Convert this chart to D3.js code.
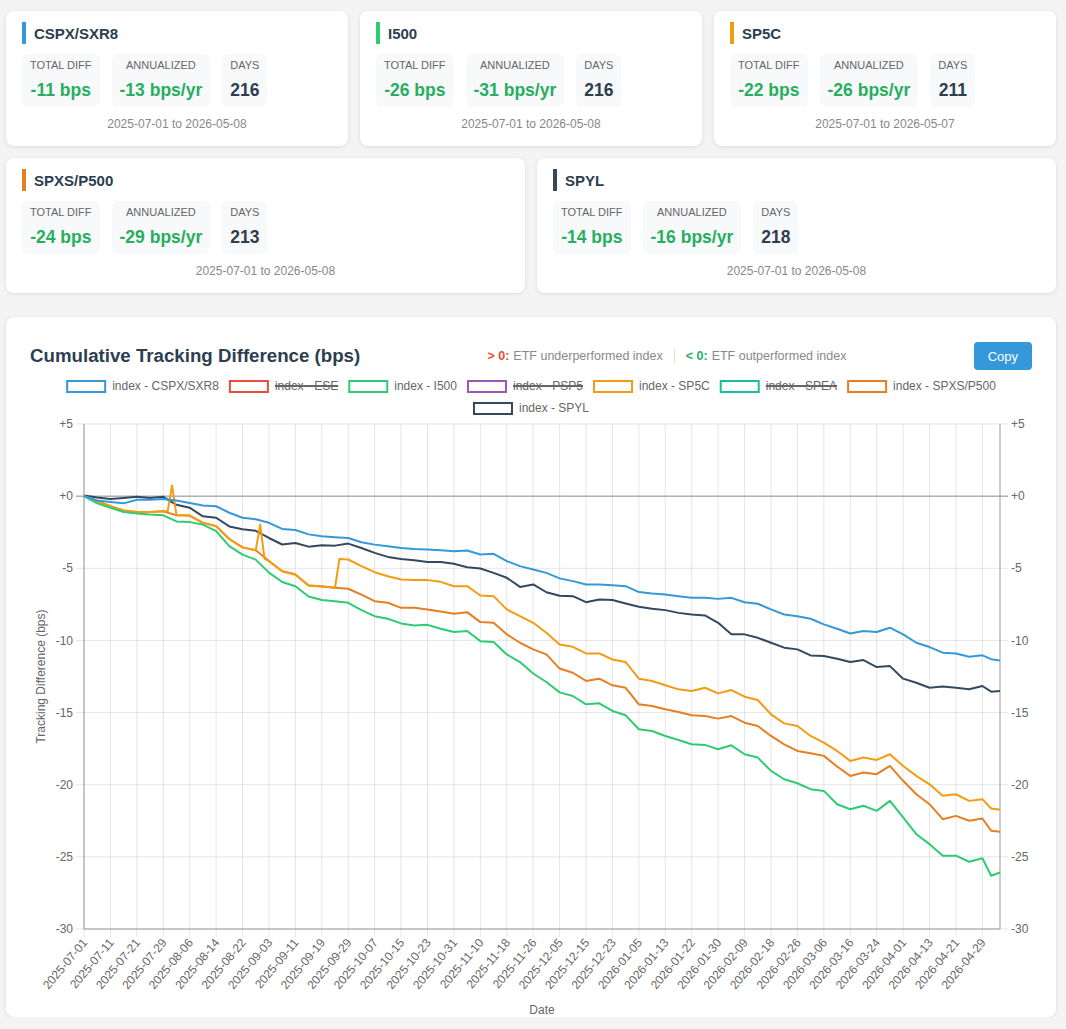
<!DOCTYPE html>
<html>
<head>
<meta charset="utf-8">
<script src="https://cdn.jsdelivr.net/npm/d3@7"></script>
<style>
  body { margin: 0; background: #f4f4f4; font-family: "Liberation Sans", Arial, Helvetica, sans-serif; }
  .wrap { padding: 11px 10px 0 6px; width: 1050px; }
  .row { display: flex; gap: 12px; }
  .row + .row { margin-top: 12px; }
  .card { flex: 1; background: #fff; border-radius: 8px; box-shadow: 0 1px 4px rgba(0,0,0,0.10);
          padding: 11px 16px 0 16px; height: 124px; box-sizing: content-box; }
  .head { display: flex; align-items: center; height: 22px; }
  .bar { width: 4px; height: 22px; margin-right: 8px; }
  .name { font-size: 15px; font-weight: bold; color: #2c3e50; }
  .stats { display: flex; gap: 12px; margin-top: 10px; }
  .stat { background: #f8f9fa; border-radius: 6px; padding: 5px 8px 6px 8px; text-align: center; }
  .lbl { font-size: 11px; line-height: 12px; color: #666; text-transform: uppercase; }
  .val { font-size: 17.5px; line-height: 22px; margin-top: 8px; font-weight: bold; }
  .range { text-align: center; margin-top: 10px; font-size: 12px; line-height: 14px; color: #888; }
  .chart-card { margin-top: 24px; background: #fff; border-radius: 8px; box-shadow: 0 1px 4px rgba(0,0,0,0.10);
                padding: 24px 24px 0 24px; height: 676px; }
  .chart-head { display: flex; justify-content: space-between; align-items: center; height: 30px; }
  .chart-title { font-size: 18.7px; font-weight: bold; color: #2c3e50; }
  .note { font-size: 12.5px; color: #888; display: flex; align-items: center; }
  .note b.pos { color: #e74c3c; margin-right: 4px; }
  .note b.neg { color: #27ae60; margin-right: 4px; }
  .note .sep { width: 1px; height: 14px; background: #ddd; margin: 0 11px; }
  .copy { background: #3498db; color: #fff; border: 0; border-radius: 4px; font-size: 13px;
          height: 28px; padding: 0 14px; font-family: inherit; }
  svg { display: block; margin-top: 5px; }
</style>
</head>
<body>
<div class="wrap">
  <div class="row" id="row1"></div>
  <div class="row" id="row2"></div>
  <div class="chart-card">
    <div class="chart-head">
      <div class="chart-title">Cumulative Tracking Difference (bps)</div>
      <div class="note"><b class="pos">&gt; 0:</b>ETF underperformed index<span class="sep"></span><b class="neg">&lt; 0:</b>ETF outperformed index</div>
      <button class="copy">Copy</button>
    </div>
    <svg id="chart"></svg>
  </div>
</div>
<script>
// ---- summary cards -------------------------------------------------------
const cardNames  = ['CSPX/SXR8', 'I500', 'SP5C', 'SPXS/P500', 'SPYL'];
const cardColors = ['#3498db', '#2ecc71', '#f39c12', '#e67e22', '#34495e'];
const totalDiff  = [-11, -26, -22, -24, -14];
const annualized = [-13, -31, -26, -29, -16];
const daysCount  = [216, 216, 211, 213, 218];
const rangeStart = ['2025-07-01', '2025-07-01', '2025-07-01', '2025-07-01', '2025-07-01'];
const rangeEnd   = ['2026-05-08', '2026-05-08', '2026-05-07', '2026-05-08', '2026-05-08'];

// ---- chart series --------------------------------------------------------
const legendNames  = ['index - CSPX/SXR8', 'index - ESE', 'index - I500', 'index - PSP5',
                      'index - SP5C', 'index - SPEA', 'index - SPXS/P500', 'index - SPYL'];
const legendColors = ['#3498db', '#e74c3c', '#2ecc71', '#9b59b6', '#f39c12', '#1abc9c', '#e67e22', '#34495e'];
const legendHidden = [false, true, false, true, false, true, false, false];

const tickLabels = ['2025-07-01','2025-07-11','2025-07-21','2025-07-29','2025-08-06','2025-08-14','2025-08-22',
  '2025-09-03','2025-09-11','2025-09-19','2025-09-29','2025-10-07','2025-10-15','2025-10-23','2025-10-31',
  '2025-11-10','2025-11-18','2025-11-26','2025-12-05','2025-12-15','2025-12-23','2026-01-05','2026-01-13',
  '2026-01-22','2026-01-30','2026-02-09','2026-02-18','2026-02-26','2026-03-06','2026-03-16','2026-03-24',
  '2026-04-01','2026-04-13','2026-04-21','2026-04-29'];
const tailDates = ['2026-04-30', '2026-05-05', '2026-05-07', '2026-05-08'];

// values read at every 3rd trading day, then the last two days
const cspx = [0, -0.3, -0.4, -0.5, -0.25, -0.25, -0.2, -0.3, -0.47, -0.65, -0.7, -1.15, -1.5, -1.6, -1.85, -2.27,
  -2.35, -2.65, -2.78, -2.85, -2.9, -3.2, -3.36, -3.47, -3.59, -3.66, -3.7, -3.75, -3.82, -3.77, -4.05, -4.0,
  -4.5, -4.85, -5.09, -5.32, -5.7, -5.89, -6.12, -6.12, -6.17, -6.24, -6.65, -6.75, -6.82, -6.93, -7.05, -7.05,
  -7.12, -7.05, -7.35, -7.46, -7.85, -8.2, -8.32, -8.5, -8.89, -9.19, -9.52, -9.35, -9.42, -9.12, -9.58, -10.16,
  -10.46, -10.85, -10.9, -11.13, -11.03, -11.3, -11.39];
const i500 = [0, -0.5, -0.8, -1.1, -1.2, -1.28, -1.33, -1.75, -1.8, -1.97, -2.43, -3.47, -4.05, -4.4, -5.3, -5.95,
  -6.25, -6.95, -7.2, -7.28, -7.39, -7.9, -8.32, -8.5, -8.82, -8.96, -8.92, -9.19, -9.42, -9.35, -10.05, -10.11,
  -10.97, -11.5, -12.29, -12.88, -13.6, -13.85, -14.43, -14.36, -14.89, -15.19, -16.16, -16.28, -16.62, -16.9,
  -17.2, -17.24, -17.54, -17.27, -17.89, -18.12, -19.04, -19.62, -19.9, -20.31, -20.43, -21.35, -21.7, -21.46,
  -21.81, -21.12, -22.27, -23.43, -24.12, -24.92, -24.92, -25.34, -25.1, -26.31, -26.08];
const sp5c = [0, -0.35, -0.7, -1.0, -1.1, -1.1, -1.05, -1.33, -1.35, -1.85, -2.08, -2.97, -3.55, -3.75, -4.5, -5.2,
  -5.43, -6.2, -6.24, -6.35, -4.39, -4.85, -5.27, -5.55, -5.78, -5.82, -5.82, -5.94, -6.24, -6.24, -6.89, -6.93,
  -7.85, -8.32, -8.78, -9.47, -10.28, -10.44, -10.9, -10.9, -11.32, -11.5, -12.65, -12.81, -13.11, -13.39,
  -13.51, -13.28, -13.67, -13.44, -13.9, -14.13, -15.12, -15.75, -15.93, -16.62, -17.08, -17.66, -18.35,
  -18.12, -18.28, -17.89, -18.7, -19.39, -19.97, -20.77, -20.66, -21.12, -21.0, -21.65, -21.74];
// single-day moves of SP5C: [trading day, value]
const sp5cExtra = [[19, -1.05], [20, 0.73], [40, -1.97], [41, -4.35], [58, -4.35]];
const spxs = [0, -0.35, -0.7, -1.0, -1.1, -1.1, -1.05, -1.33, -1.35, -1.85, -2.08, -2.97, -3.55, -3.75, -4.5, -5.2,
  -5.43, -6.2, -6.27, -6.35, -6.42, -6.82, -7.28, -7.39, -7.74, -7.74, -7.85, -8.0, -8.15, -8.04, -8.73, -8.78,
  -9.58, -10.16, -10.62, -10.97, -11.95, -12.24, -12.81, -12.65, -13.11, -13.28, -14.43, -14.54, -14.77, -14.96,
  -15.19, -15.24, -15.42, -15.24, -15.7, -15.93, -16.62, -17.2, -17.66, -17.82, -18.0, -18.74, -19.39, -19.16,
  -19.27, -18.7, -19.73, -20.66, -21.35, -22.39, -22.16, -22.5, -22.34, -23.19, -23.26];
const spyl = [0.05, -0.1, -0.2, -0.13, -0.05, -0.13, -0.05, -0.6, -0.8, -1.4, -1.5, -2.1, -2.3, -2.4, -2.9, -3.35,
  -3.25, -3.5, -3.4, -3.43, -3.29, -3.59, -3.93, -4.21, -4.35, -4.44, -4.56, -4.56, -4.69, -4.93, -5.02, -5.32,
  -5.66, -6.29, -6.12, -6.66, -6.9, -6.93, -7.35, -7.16, -7.2, -7.44, -7.67, -7.81, -7.9, -8.09, -8.2, -8.27,
  -8.78, -9.58, -9.58, -9.82, -10.16, -10.5, -10.62, -11.04, -11.08, -11.27, -11.5, -11.36, -11.85, -11.78,
  -12.65, -12.93, -13.28, -13.2, -13.28, -13.39, -13.16, -13.55, -13.5];

const yTicks = [5, 0, -5, -10, -15, -20, -25, -30];

// ---- cards ---------------------------------------------------------------
cardNames.forEach((name, i) => {
  const row = d3.select(i < 3 ? '#row1' : '#row2');
  const card = row.append('div').attr('class', 'card');
  const head = card.append('div').attr('class', 'head');
  head.append('span').attr('class', 'bar').style('background', cardColors[i]);
  head.append('span').attr('class', 'name').text(name);
  const stats = card.append('div').attr('class', 'stats');
  const items = [
    ['Total Diff', `${totalDiff[i]} bps`, totalDiff[i] < 0 ? '#27ae60' : '#e74c3c'],
    ['Annualized', `${annualized[i]} bps/yr`, annualized[i] < 0 ? '#27ae60' : '#e74c3c'],
    ['Days', daysCount[i], '#2c3e50']
  ];
  items.forEach(([l, v, c]) => {
    const s = stats.append('div').attr('class', 'stat');
    s.append('div').attr('class', 'lbl').text(l);
    s.append('div').attr('class', 'val').style('color', c).text(v);
  });
  card.append('div').attr('class', 'range').text(`${rangeStart[i]} to ${rangeEnd[i]}`);
});

// ---- dates (trading days) ------------------------------------------------
const fmt = d3.utcFormat('%Y-%m-%d');
const dates = [];
tickLabels.forEach((t, k) => {
  dates.push(t);
  if (k === tickLabels.length - 1) return;
  let d = new Date(t + 'T00:00:00Z'), c = 0;
  while (c < 5) {
    d = d3.utcDay.offset(d, 1);
    const w = d.getUTCDay();
    if (w !== 0 && w !== 6) { dates.push(fmt(d)); c++; }
  }
});
tailDates.forEach(t => dates.push(t));

const sampleIdx = d3.range(0, 205, 3).concat([206, 208]);

function toPoints(vals, extra) {
  const pts = sampleIdx.map((ix, k) => [ix, vals[k]]);
  (extra || []).forEach(e => pts.push(e));
  return pts.sort((a, b) => a[0] - b[0]).map(([ix, v]) => [dates[ix], v]);
}

const series = [
  { color: '#3498db', pts: toPoints(cspx) },
  { color: '#2ecc71', pts: toPoints(i500) },
  { color: '#f39c12', pts: toPoints(sp5c, sp5cExtra) },
  { color: '#e67e22', pts: toPoints(spxs) },
  { color: '#34495e', pts: toPoints(spyl) }
];

// ---- chart ---------------------------------------------------------------
const W = 1002, H = 641;
const m = { left: 54, right: 970, top: 48, bottom: 553 };
const svg = d3.select('#chart').attr('width', W).attr('height', H)
  .style('font-family', '"Liberation Sans", Arial, Helvetica, sans-serif');

const x = d3.scalePoint().domain(dates).range([m.left, m.right]);
const y = d3.scaleLinear().domain([-30, 5]).range([m.bottom, m.top]);

// legend
const lg = svg.append('g');
const probe = svg.append('text').attr('font-size', 12);
const widths = legendNames.map(n => { probe.text(n); return probe.node().getComputedTextLength(); });
probe.remove();
const rows = [[]];
let rowW = 0;
legendNames.forEach((n, i) => {
  const w = 40 + 6 + widths[i];
  if (rowW + w > W - 20 && rows[rows.length - 1].length) { rows.push([]); rowW = 0; }
  rows[rows.length - 1].push(i);
  rowW += w + 10;
});
rows.forEach((r, ri) => {
  const total = d3.sum(r, i => 40 + 6 + widths[i]) + 10 * (r.length - 1);
  let cx = W / 2 - total / 2;
  const cy = 10 + ri * 22;
  r.forEach(i => {
    lg.append('rect').attr('x', cx + 1).attr('y', cy - 5).attr('width', 38).attr('height', 11)
      .attr('fill', '#fff').attr('stroke', legendColors[i]).attr('stroke-width', 2);
    const tx = cx + 46;
    lg.append('text').attr('x', tx).attr('y', cy + 4).attr('font-size', 12).attr('fill', '#666').text(legendNames[i]);
    if (legendHidden[i]) {
      lg.append('line').attr('x1', tx).attr('x2', tx + widths[i]).attr('y1', cy).attr('y2', cy)
        .attr('stroke', '#666').attr('stroke-width', 2);
    }
    cx += 40 + 6 + widths[i] + 10;
  });
});

// grid
const tickDates = tickLabels;
const grid = svg.append('g');
grid.selectAll('line.v').data(tickDates).join('line')
  .attr('x1', d => x(d)).attr('x2', d => x(d)).attr('y1', m.top).attr('y2', m.bottom + 8)
  .attr('stroke', 'rgba(0,0,0,0.1)');
grid.selectAll('line.h').data(yTicks).join('line')
  .attr('x1', m.left - 8).attr('x2', m.right + 8).attr('y1', d => y(d)).attr('y2', d => y(d))
  .attr('stroke', d => d === 0 ? '#888' : 'rgba(0,0,0,0.1)');
// axis borders
svg.append('line').attr('x1', m.left).attr('x2', m.left).attr('y1', m.top).attr('y2', m.bottom).attr('stroke', '#999');
svg.append('line').attr('x1', m.right).attr('x2', m.right).attr('y1', m.top).attr('y2', m.bottom).attr('stroke', '#999');
svg.append('line').attr('x1', m.left).attr('x2', m.right).attr('y1', m.bottom).attr('y2', m.bottom).attr('stroke', '#999');

// y tick labels
const yfmt = v => (v >= 0 ? '+' : '') + v;
svg.append('g').selectAll('text').data(yTicks).join('text')
  .attr('x', m.left - 11).attr('y', d => y(d)).attr('dy', '0.35em').attr('text-anchor', 'end')
  .attr('font-size', 12).attr('fill', '#666').text(yfmt);
svg.append('g').selectAll('text').data(yTicks).join('text')
  .attr('x', m.right + 11).attr('y', d => y(d)).attr('dy', '0.35em').attr('text-anchor', 'start')
  .attr('font-size', 12).attr('fill', '#666').text(yfmt);

// x tick labels
svg.append('g').selectAll('text').data(tickDates).join('text')
  .attr('transform', d => `translate(${x(d) + 4},${m.bottom + 14}) rotate(-50)`)
  .attr('text-anchor', 'end').attr('font-size', 12).attr('fill', '#666').text(d => d);

// axis titles
svg.append('text').attr('transform', `translate(11,${(m.top + m.bottom) / 2}) rotate(-90)`)
  .attr('text-anchor', 'middle').attr('dy', '0.35em').attr('font-size', 12).attr('fill', '#666')
  .text('Tracking Difference (bps)');
svg.append('text').attr('x', (m.left + m.right) / 2).attr('y', 638).attr('text-anchor', 'middle')
  .attr('font-size', 12).attr('fill', '#666').text('Date');

// lines (first dataset on top)
const line = d3.line().x(d => x(d[0])).y(d => y(d[1]));
svg.append('g').selectAll('path').data(series.slice().reverse()).join('path')
  .attr('d', d => line(d.pts)).attr('fill', 'none').attr('stroke', d => d.color)
  .attr('stroke-width', 2).attr('stroke-linejoin', 'round');
</script>
</body>
</html>
